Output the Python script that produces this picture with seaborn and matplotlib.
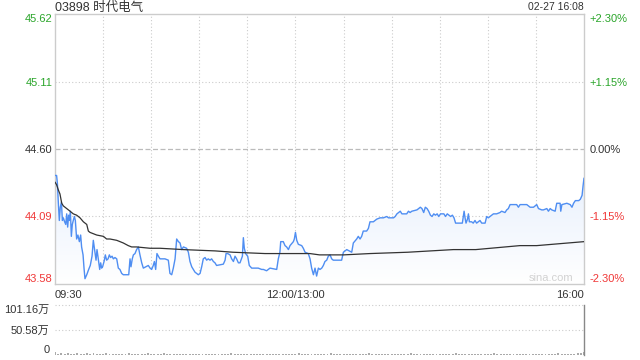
import numpy as np
import pandas as pd
import matplotlib
matplotlib.use("Agg")
import matplotlib.pyplot as plt
import seaborn as sns
from matplotlib.patches import Polygon
from matplotlib.colors import LinearSegmentedColormap

# ---------------- data ----------------
title_text = "03898 时代电气"
stamp_text = "02-27 16:08"
prev_close = 44.60
price_ticks = [43.58, 44.09, 44.60, 45.11, 45.62]
pct_labels = ["-2.30%", "-1.15%", "0.00%", "+1.15%", "+2.30%"]
time_ticks = [0, 150, 330]
time_labels = ["09:30", "12:00/13:00", "16:00"]
vol_ticks = [0, 50.58, 101.16]
vol_labels = ["0", "50.58万", "101.16万"]

# minutes since 09:30 (lunch break removed) and price
price_t = [0, 1.0, 1.5, 2.1, 2.7, 3.3, 4.0, 4.6, 5.2, 6.0, 6.7, 7.3, 7.9, 8.5, 8.9, 9.6,
           10.2, 10.8, 11.4, 12.1, 12.7, 13.5, 14.3, 15.2, 16.0, 16.6, 17.5, 18.1, 18.7,
           19.8, 21.0, 22.0, 23.1, 23.9, 24.7, 25.6, 26.2, 27.0, 27.9, 28.5, 29.1, 29.7,
           30.6, 31.4, 32.2, 33.1, 33.9, 34.7, 35.6, 36.4, 37.4, 38.5, 39.5, 40.5, 41.6,
           42.6, 46.0, 46.8, 47.4, 48.2, 48.9, 49.9, 50.9, 52.0, 53.0, 54.1, 55.1, 56.6,
           58.2, 59.3, 60.3, 61.3, 62.0, 62.8, 63.6, 64.5,
           65.5, 68.6, 70.7, 71.7, 72.8, 73.8, 74.9, 75.9, 77.0, 78.0, 79.0, 80.1, 82.1,
           83.2, 84.2, 85.3, 86.3, 87.3, 89.4, 90.5, 91.5, 92.5, 93.6, 94.6, 95.6, 96.7,
           97.7, 98.8, 99.8, 100.8, 105.0, 106.1, 106.7, 107.7, 109.2, 110.2, 111.3,
           112.3, 113.3, 114.4, 115.4, 116.9, 117.5, 118.1, 118.9, 120.2, 121.2, 122.7,
           126.8,
           128.9, 130.0, 132.0, 134.1, 138.3, 139.3, 140.3, 140.8, 142.4, 143.5, 144.5,
           145.6, 146.6, 148.7, 149.3, 150.0, 150.8, 151.8, 153.9, 154.9, 156.0, 158.0,
           159.1, 160.1, 161.2, 162.2, 163.2, 164.3, 165.3, 166.4, 167.4, 168.4, 169.5,
           170.5, 171.6, 172.6, 173.6, 178.8, 179.9, 182.0, 185.1, 186.1, 188.2, 189.2,
           190.3, 191.3, 192.3, 194.4, 195.5, 196.5,
           198.6, 200.7, 202.8, 204.9, 207.0, 208.0, 211.2, 212.2, 213.3, 215.4, 216.4,
           219.4, 220.5, 221.5, 222.6, 225.8, 227.9, 228.9, 230.0, 231.0, 232.1, 233.1,
           234.2, 235.2, 236.3, 237.3, 238.4, 239.4, 240.5, 242.6, 243.6, 244.7, 246.8,
           247.9, 248.9, 249.9, 254.1, 255.2, 255.8, 256.4, 257.3, 257.9, 258.5,
           259.9, 260.9, 262.0, 263.0, 265.1, 266.2, 268.3, 269.3, 270.3, 271.4, 273.5,
           275.5, 277.6, 278.6, 280.7, 281.8, 282.8, 283.9, 288.0, 289.1, 290.1, 292.2,
           294.3, 296.4, 298.5, 300.5, 301.6, 303.6, 304.7, 306.8, 307.8, 308.9, 309.9,
           312.0, 313.0, 315.1, 315.5, 316.2, 319.3, 321.4, 322.5, 323.5, 324.6, 326.7,
           327.7, 328.8, 329.4, 330.0]
price_v = [44.40, 44.40, 44.34, 44.19, 44.06, 44.16, 44.20, 44.06, 44.08, 44.05, 44.03,
           44.11, 44.01, 44.10, 44.06, 44.13, 43.94, 44.03, 44.06, 44.09, 44.06, 43.92,
           43.95, 43.90, 43.95, 43.86, 43.80, 43.70, 43.62, 43.65, 43.69, 43.72, 43.79,
           43.91, 43.84, 43.76, 43.84, 43.77, 43.69, 43.74, 43.70, 43.71, 43.75, 43.80,
           43.76, 43.77, 43.80, 43.78, 43.79, 43.77, 43.78, 43.77, 43.70, 43.69, 43.66,
           43.65, 43.65, 43.77, 43.71, 43.77, 43.80, 43.81, 43.84, 43.86, 43.80, 43.74,
           43.70, 43.71, 43.72, 43.70, 43.69, 43.72, 43.75, 43.69, 43.81, 43.79,
           43.77, 43.77, 43.76, 43.66, 43.65, 43.70, 43.77, 43.92, 43.90, 43.89, 43.84,
           43.86, 43.85, 43.82, 43.75, 43.71, 43.69, 43.67, 43.65, 43.66, 43.71, 43.77,
           43.78, 43.76, 43.77, 43.76, 43.77, 43.75, 43.74, 43.72, 43.73, 43.76, 43.81,
           43.81, 43.80, 43.77, 43.75, 43.79, 43.77, 43.74, 43.74, 43.79, 43.93, 43.85,
           43.81, 43.79, 43.72, 43.70, 43.70,
           43.69, 43.69, 43.68, 43.70, 43.69, 43.77, 43.82, 43.90, 43.90, 43.87, 43.86,
           43.84, 43.87, 43.90, 43.92, 43.97, 43.91, 43.88, 43.87, 43.85, 43.82, 43.81,
           43.77, 43.70, 43.65, 43.70, 43.64, 43.70, 43.69, 43.70, 43.72, 43.75, 43.76,
           43.79, 43.80, 43.77, 43.76, 43.76, 43.82, 43.84, 43.82, 43.89, 43.92, 43.94,
           43.92, 43.94, 43.98, 43.98, 44.00, 44.05,
           44.05, 44.07, 44.08, 44.08, 44.09, 44.08, 44.08, 44.09, 44.11, 44.13, 44.11,
           44.11, 44.13, 44.12, 44.13, 44.14, 44.16, 44.15, 44.12, 44.16, 44.15, 44.13,
           44.10, 44.09, 44.11, 44.10, 44.11, 44.09, 44.11, 44.11, 44.09, 44.11, 44.09,
           44.10, 44.08, 44.04, 44.04, 44.13, 44.08, 44.04, 44.07, 44.11, 44.05,
           44.05, 44.04, 44.06, 44.04, 44.06, 44.04, 44.04, 44.09, 44.08, 44.09, 44.11,
           44.11, 44.12, 44.13, 44.12, 44.14, 44.15, 44.18, 44.18, 44.16, 44.18, 44.18,
           44.18, 44.16, 44.16, 44.18, 44.15, 44.14, 44.14, 44.15, 44.13, 44.15, 44.14,
           44.13, 44.19, 44.19, 44.13, 44.18, 44.19, 44.18, 44.16, 44.19, 44.21, 44.21,
           44.22, 44.25, 44.32, 44.38]

avg_t = [0, 1, 2.1, 3.1, 4.2, 5.2, 7.3, 9.4, 11.4, 13.5, 15.6, 17.7, 19.8, 20.8, 21.8,
         26.0, 30.2, 32.2, 34.3, 38.5, 42.6, 45.7, 47.8, 50.9, 59.3, 65.5, 80, 100, 111,
         131, 159, 165, 180, 196.5, 220, 248.5, 262.5, 290, 300.5, 330]
avg_v = [44.35, 44.33, 44.29, 44.26, 44.19, 44.17, 44.15, 44.13, 44.11, 44.10, 44.08,
         44.05, 44.03, 43.98, 43.97, 43.95, 43.94, 43.92, 43.92, 43.91, 43.89, 43.87,
         43.86, 43.86, 43.85, 43.85, 43.84, 43.83, 43.82, 43.81, 43.81, 43.80, 43.80,
         43.81, 43.82, 43.84, 43.84, 43.87, 43.87, 43.90]

# volume (万), one bar every two minutes
vol_t = list(range(0, 331, 2))
vol_v = [6, 3, 4, 3, 5, 2, 3, 4, 3, 2, 4, 3, 5, 3, 2, 3, 4, 2, 3, 3,
         2, 3, 2, 4, 3, 2, 3, 2, 3, 4, 2, 3, 2, 3, 5, 2, 3, 2, 3, 2,
         3, 2, 3, 2, 2, 3, 2, 3, 2, 2, 3, 2, 2, 3, 2, 4, 2, 3, 2, 2,
         3, 2, 2, 3, 2, 2, 3, 2, 3, 2, 2, 2, 3, 2, 2, 3, 4, 2, 3, 2,
         2, 3, 2, 2, 3, 2, 4, 2, 3, 2, 2, 3, 2, 2, 3, 2, 3, 2, 4, 3,
         2, 3, 2, 3, 2, 2, 3, 2, 2, 3, 2, 4, 2, 3, 2, 2, 3, 2, 3, 2,
         2, 3, 2, 2, 3, 4, 2, 3, 2, 3, 2, 2, 3, 2, 3, 2, 3, 4, 2, 3,
         2, 3, 2, 3, 2, 3, 2, 2, 3, 2, 3, 2, 3, 2, 3, 2, 3, 4, 2, 3,
         3, 2, 3, 4, 5, 6]

# ---------------- style ----------------
sns.set_theme(style="white")
plt.rcParams["font.family"] = ["Liberation Sans", "Noto Sans CJK SC", "DejaVu Sans"]

GREEN = "#2aa52a"
RED = "#f03838"
DARK = "#333333"
GRID = "#cccccc"
LINE = "#4f8ef2"

fig = plt.figure(figsize=(6.4, 3.6), dpi=100)
W, H = 640, 360
ax = fig.add_axes([55 / W, 1 - 284 / H, 529 / W, 270 / H])
vax = fig.add_axes([55 / W, 1 - 355 / H, 529 / W, 50 / H])

ymin, ymax = price_ticks[0], price_ticks[-1]

# gradient fill under price line
verts = [(price_t[0], ymin)] + list(zip(price_t, price_v)) + [(price_t[-1], ymin)]
poly = Polygon(verts, closed=True, facecolor="none", edgecolor="none")
ax.add_patch(poly)
cmap = LinearSegmentedColormap.from_list("g", ["#ffffff", "#e8f0fd"])
grad = np.linspace(0, 1, 256).reshape(-1, 1)
im = ax.imshow(grad, extent=[0, 330, ymin, max(price_v)], origin="lower",
               aspect="auto", cmap=cmap, zorder=1)
im.set_clip_path(poly)

# grid
ax.grid(False)
for v in [45.11, 44.09]:
    ax.axhline(v, color=GRID, lw=0.8, ls=(0, (1, 2)), zorder=0)
ax.axhline(prev_close, color="#bbbbbb", lw=0.9, ls=(0, (4, 2)), zorder=0)
for m in range(30, 330, 30):
    ax.axvline(m, color=GRID, lw=0.8, ls=(0, (1, 2)), zorder=0)

# lines
dfp = pd.DataFrame({"t": price_t, "p": price_v})
dfa = pd.DataFrame({"t": avg_t, "p": avg_v})
sns.lineplot(data=dfp, x="t", y="p", ax=ax, color=LINE, lw=1.0,
             estimator=None, sort=False, zorder=3)
sns.lineplot(data=dfa, x="t", y="p", ax=ax, color="#333333", lw=0.9,
             estimator=None, sort=False, zorder=4)

ax.set_xlim(0, 330)
ax.set_ylim(ymin, ymax)
ax.set_xlabel("")
ax.set_ylabel("")
for s in ax.spines.values():
    s.set_color(GRID)
    s.set_linewidth(1.0)

ax.set_yticks(price_ticks)
ax.set_yticklabels([f"{v:.2f}" for v in price_ticks])
ax.tick_params(axis="y", length=0, pad=2, labelsize=8)
lab_cols = [RED, RED, DARK, GREEN, GREEN]
for lab, c in zip(ax.get_yticklabels(), lab_cols):
    lab.set_color(c)
ax.get_yticklabels()[0].set_va("bottom")
ax.get_yticklabels()[-1].set_va("top")

ax.set_xticks(time_ticks)
ax.set_xticklabels(time_labels)
ax.tick_params(axis="x", length=0, pad=4, labelsize=8, labelcolor=DARK)
xl = ax.get_xticklabels()
xl[0].set_ha("left")
xl[-1].set_ha("right")

rax = ax.twinx()
rax.set_ylim(ymin, ymax)
rax.set_yticks(price_ticks)
rax.set_yticklabels(pct_labels)
rax.tick_params(axis="y", length=0, pad=4, labelsize=8)
for lab, c in zip(rax.get_yticklabels(), lab_cols):
    lab.set_color(c)
rax.get_yticklabels()[0].set_va("bottom")
rax.get_yticklabels()[-1].set_va("top")
for s in rax.spines.values():
    s.set_visible(False)
rax.grid(False)

ax.text(0.979, 0.004, "sina.com", transform=ax.transAxes, ha="right", va="bottom",
        color="#d2d2d2", fontsize=8)

# volume panel
sns.barplot(x=vol_t, y=vol_v, native_scale=True, ax=vax, color="#aaaaaa",
            width=0.6, errorbar=None, saturation=1, edgecolor="none")
vax.grid(False)
vax.set_xlim(0, 330)
vax.set_ylim(0, vol_ticks[-1])
for v in vol_ticks[1:]:
    vax.axhline(v, color=GRID, lw=0.8, ls=(0, (1, 2)), zorder=0, clip_on=False)
for k in ["left", "top", "bottom"]:
    vax.spines[k].set_visible(False)
vax.spines["right"].set_color("#888888")
vax.spines["right"].set_linewidth(1.0)
vax.set_xticks([])
vax.set_yticks(vol_ticks)
vax.set_yticklabels(vol_labels)
vax.tick_params(axis="y", length=0, pad=4, labelsize=8, labelcolor=DARK)
vax.get_yticklabels()[0].set_va("bottom")
vax.get_yticklabels()[-1].set_va("top")
vax.set_xlabel("")
vax.set_ylabel("")

fig.text(55 / W, 1 - 7.5 / H, title_text, ha="left", va="center", fontsize=9, color=DARK)
fig.text(584 / W, 1 - 7.5 / H, stamp_text, ha="right", va="center", fontsize=7.5, color=DARK)

fig.savefig("out.png", dpi=100)
